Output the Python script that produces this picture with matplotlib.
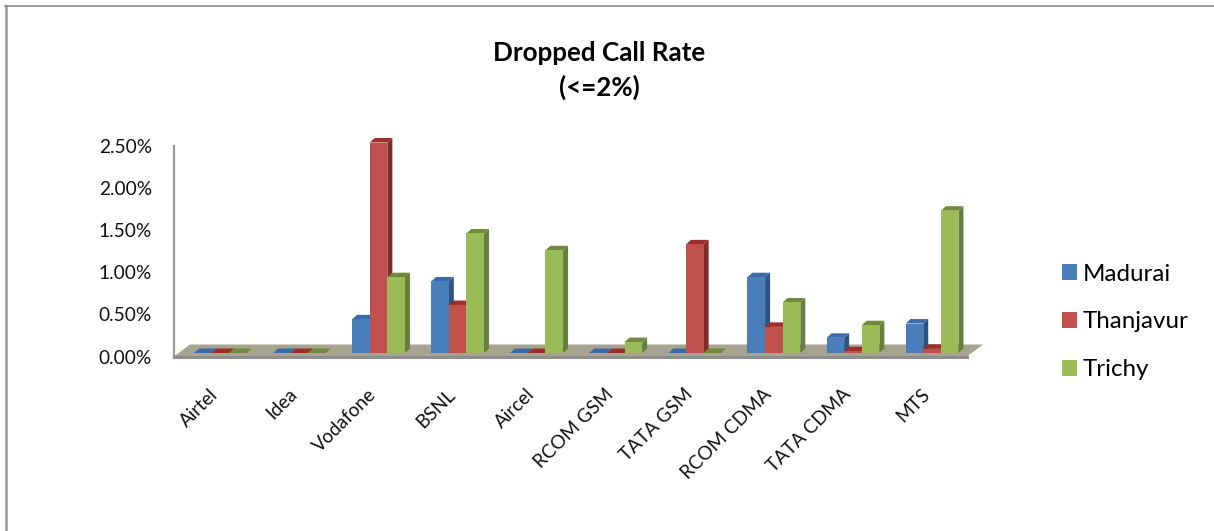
import numpy as np
import matplotlib
matplotlib.use('Agg')
import matplotlib.pyplot as plt
from matplotlib.lines import Line2D
from matplotlib.patches import Polygon
from matplotlib.transforms import ScaledTranslation

plt.rcParams['font.family'] = ['Lato', 'DejaVu Sans']

categories = ['Airtel', 'Idea', 'Vodafone', 'BSNL', 'Aircel', 'RCOM GSM',
              'TATA GSM', 'RCOM CDMA', 'TATA CDMA', 'MTS']
madurai = [0, 0, 0.40, 0.85, 0, 0, 0, 0.90, 0.18, 0.35]
thanjavur = [0, 0, 2.50, 0.57, 0, 0, 1.29, 0.31, 0.02, 0.05]
trichy = [0, 0, 0.90, 1.42, 1.22, 0.13, 0, 0.60, 0.33, 1.69]
y_ticks = [0, 0.5, 1.0, 1.5, 2.0, 2.5]
y_labels = ['0.00%', '0.50%', '1.00%', '1.50%', '2.00%', '2.50%']

W, H = 1214, 531
fig = plt.figure(figsize=(W / 100, H / 100), dpi=100)

# axes box in pixels of the picture
left, right, top, bottom = 174, 967, 146, 356.5
ax = fig.add_axes([left / W, (H - bottom) / H, (right - left) / W, (bottom - top) / H])
px_x = 79.07  # pixels per category
px_y = (bottom - top) / 2.5  # pixels per 1%
ax.set_xlim((left - 220.4) / px_x, (right - 220.4) / px_x)
ax.set_ylim(0, 2.5)

bar_w = 17.6 / px_x
dx = 5 / px_x  # bar depth
dy = 4.5 / px_y
base = 3.5 / px_y  # bars stand a bit behind the front edge of the floor

# floor
fx0, fx1 = ax.get_xlim()
floor_dx = 16 / px_x
floor_dy = 12 / px_y
ax.add_patch(Polygon([(fx0, 0), (fx0 + floor_dx, floor_dy), (fx1 + floor_dx, floor_dy), (fx1, 0)],
                     closed=True, fc='#A6A391', ec='none', clip_on=False, zorder=1))


def draw_bar(x, v, front, side, lid, z):
    x0 = x
    x1 = x + bar_w
    y0 = base
    y1 = base + v
    if v > 0:
        ax.add_patch(Polygon([(x1, y0), (x1 + dx, y0 + dy), (x1 + dx, y1 + dy), (x1, y1)],
                             closed=True, fc=side, ec='none', clip_on=False, zorder=z))
    ax.add_patch(Polygon([(x0, y1), (x0 + dx, y1 + dy), (x1 + dx, y1 + dy), (x1, y1)],
                         closed=True, fc=lid, ec='none', clip_on=False, zorder=z))


series = [('Madurai', madurai, '#4A7EBB', '#2B5483', '#3A6BA8'),
          ('Thanjavur', thanjavur, '#C0504D', '#7F2C2A', '#9C2F2C'),
          ('Trichy', trichy, '#9BBB59', '#65803A', '#708A3C')]

for i, (name, vals, front, side, lid) in enumerate(series):
    xs = np.arange(len(categories)) + (i - 1.5) * bar_w
    for x, v in zip(xs, vals):
        draw_bar(x, v, front, side, lid, 2 + i)
    ax.bar(xs, vals, width=bar_w, bottom=base, align='edge', color=front, label=name,
           clip_on=False, zorder=2 + i)

ax.spines['top'].set_visible(False)
ax.spines['right'].set_visible(False)
ax.spines['left'].set_color('#9A9A9A')
ax.spines['left'].set_linewidth(1.6)
ax.spines['bottom'].set_color('#8E8E8E')
ax.spines['bottom'].set_linewidth(2.2)
ax.spines['bottom'].set_zorder(6)

ax.set_yticks(y_ticks)
ax.set_yticklabels(y_labels, fontsize=13.8, color='#111111')
ax.tick_params(axis='y', length=0, pad=16)
ax.set_xticks(np.arange(len(categories)))
ax.set_xticklabels(categories, rotation=45, ha='right', rotation_mode='anchor',
                   fontsize=13.6, color='#111111')
ax.tick_params(axis='x', length=0, pad=21)
# labels sit a little left of the category centre
shift = ScaledTranslation(-11 / 100, 0, fig.dpi_scale_trans)
for lab in ax.get_xticklabels():
    lab.set_transform(lab.get_transform() + shift)

fig.text(599 / W, 1 - 70.5 / H, 'Dropped Call Rate\n(<=2%)', ha='center', va='center',
         fontsize=18.7, fontweight='bold', color='black', linespacing=1.45)

ax.legend(loc='center left', bbox_to_anchor=(1043 / W, 1 - 322 / H), bbox_transform=fig.transFigure,
          frameon=False, fontsize=17.4, handlelength=0.62, handleheight=0.62,
          handletextpad=0.22, labelspacing=1.11, borderpad=0.3)

# frame round the picture, only left and top
fig.add_artist(Line2D([6 / W, 6 / W], [0, 1 - 5.5 / H], color='#969696', lw=1.8))
fig.add_artist(Line2D([5 / W, 1], [1 - 5.8 / H, 1 - 5.8 / H], color='#8E8E8E', lw=1.2))

fig.savefig('out.png', dpi=100)
